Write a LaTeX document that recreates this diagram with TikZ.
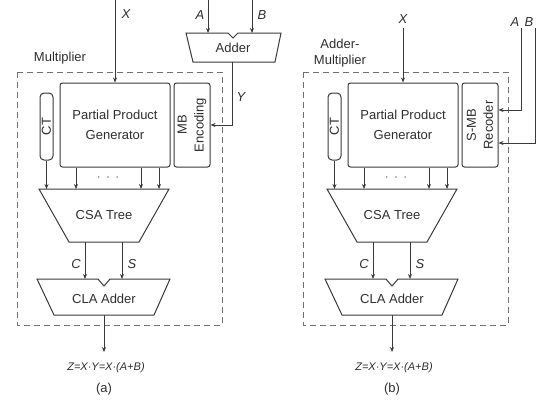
\documentclass[tikz,border=0pt]{standalone}
\usepackage{fontspec}
\setmainfont{Liberation Sans}
\usetikzlibrary{arrows.meta}
\definecolor{ln}{HTML}{3A3A3A}
\definecolor{dsh}{HTML}{707070}
\definecolor{tx}{HTML}{2E2E2E}
\tikzset{
  every node/.style={text=tx, font=\fontsize{13}{17}\selectfont, inner sep=0pt},
  blk/.style={draw=ln, line width=1pt, rounded corners=2.5pt, fill=white},
  shp/.style={draw=ln, line width=1pt, line join=miter},
  conn/.style={draw=ln, line width=0.9pt, -{Stealth[length=5pt,width=4pt]}},
  wire/.style={draw=ln, line width=0.9pt},
  grp/.style={draw=dsh, line width=0.9pt, dash pattern=on 6pt off 4pt},
  lbl/.style={font=\fontsize{13}{15}\selectfont\itshape},
  eqn/.style={font=\fontsize{11}{13}\selectfont\itshape},
}
\newcommand\corepanel[2]{%
  % blocks
  \node[blk, minimum width=13pt, minimum height=67pt, rounded corners=4pt] (ct) at (46.5,126.5) {};
  \node[rotate=90] (ctt) at (ct.center) {CT};
  \node[blk, minimum width=110pt, minimum height=84pt, align=center,
        font=\fontsize{13}{20}\selectfont] (ppg) at (115,125) {Partial Product\\Generator};
  \node[blk, minimum width=36pt, minimum height=84pt] (side) at (192,125) {};
  \node[rotate=90, align=center, font=\fontsize{13}{17}\selectfont] (sidet) at (side.center) {#1\\#2};
  % CSA tree
  \draw[shp] (39,189) -- (169,189) -- (139,242) -- (69,242) -- cycle;
  \node (csa) at (104,215) {CSA Tree};
  \coordinate (c1) at (46.5,189);
  \coordinate (c2) at (76,189);
  \coordinate (c3) at (141,189);
  \coordinate (c4) at (159,189);
  \draw[conn] (ct.south) -- (c1);
  \draw[conn] (ppg.south -| c2) -- (c2);
  \draw[conn] (ppg.south -| c3) -- (c3);
  \draw[conn] (ppg.south -| c4) -- (c4);
  \node (dots) at (108,178) {$\cdot\;\cdot\;\cdot$};
  % CLA adder
  \draw[shp] (37,279) -- (98,279) -- (104,286) -- (110,279) -- (170,279)
             -- (154,315) -- (54,315) -- cycle;
  \node (cla) at (104,299) {CLA Adder};
  \coordinate (csaC) at (85,242);
  \coordinate (csaS) at (122,242);
  \coordinate (claC) at (85,279);
  \coordinate (claS) at (122,279);
  \draw[conn] (csaC) -- (claC);
  \draw[conn] (csaS) -- (claS);
  \node[lbl] (lc) at (76,264) {C};
  \node[lbl] (ls) at (132,264) {S};
  \coordinate (claout) at (104,315);
  \coordinate (zin) at (104,352);
  \draw[conn] (claout) -- (zin);
  \node[eqn] (z) at (106,368) {Z=X·Y=X·(A+B)};
}
\begin{document}
\begin{tikzpicture}[x=1pt,y=-1pt]
\useasboundingbox (0,0) rectangle (538,402);
% ---------------- panel (a)
\begin{scope}[name prefix=a-]
  \draw[grp] (17,72) rectangle (222,325);
  \node (grplbl) at (60,58) {Multiplier};
  \corepanel{MB}{Encoding}
  \coordinate (xin) at (115,0);
  \draw[conn] (xin) -- (ppg.north);
  \node[lbl] (lx) at (126,14) {X};
  % adder
  \draw[shp] (186,33) -- (228,33) -- (233,38) -- (238,33) -- (281,33)
             -- (275,62) -- (193,62) -- cycle;
  \node (adder) at (233,48) {Adder};
  \coordinate (ain) at (208,0);
  \coordinate (bin) at (252,0);
  \coordinate (aadd) at (208,33);
  \coordinate (badd) at (252,33);
  \draw[conn] (ain) -- (aadd);
  \draw[conn] (bin) -- (badd);
  \node[lbl] (la) at (200,15) {A};
  \node[lbl] (lb) at (262,15) {B};
  \coordinate (yout) at (232,62);
  \coordinate (ybend) at (232,125);
  \draw[conn] (yout) -- (ybend) -- (side.east);
  \node[lbl] (ly) at (241,97) {Y};
  \node (cap) at (104,389) {(a)};
\end{scope}
% ---------------- panel (b)
\begin{scope}[xshift=288pt, name prefix=b-]
  \draw[grp] (15,72) rectangle (220,325);
  \node[align=center, font=\fontsize{13}{16}\selectfont] (grplbl) at (52,53) {Adder-\\Multiplier};
  \corepanel{S-MB}{Recoder}
  \coordinate (xin) at (115,28);
  \draw[conn] (xin) -- (ppg.north);
  \node[lbl] (lx) at (115,19) {X};
  \coordinate (ain) at (233,28);
  \coordinate (bin) at (247,28);
  \coordinate (abend) at (233,110);
  \coordinate (bbend) at (247,143);
  \draw[conn] (ain) -- (abend) -- (abend -| side.east);
  \draw[conn] (bin) -- (bbend) -- (bbend -| side.east);
  \node[lbl] (la) at (227,22) {A};
  \node[lbl] (lb) at (241,22) {B};
  \node (cap) at (104,389) {(b)};
\end{scope}
\end{tikzpicture}
\end{document}
